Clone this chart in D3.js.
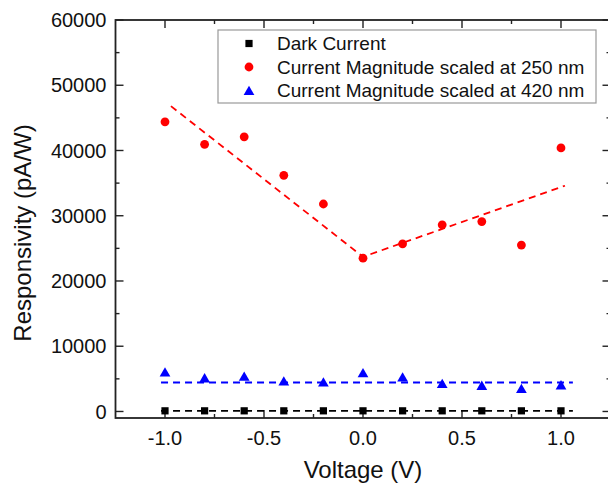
<!DOCTYPE html>
<html>
<head>
<meta charset="utf-8">
<script src="https://cdn.jsdelivr.net/npm/d3@7"></script>
<style>
  body { margin: 0; background: #fff; }
  text { font-family: "Liberation Sans", Arial, sans-serif; fill: #111; }
</style>
</head>
<body>
<svg id="chart" width="608" height="491"></svg>
<script>
// voltage points (V)
const voltage = [-1.0, -0.8, -0.6, -0.4, -0.2, 0.0, 0.2, 0.4, 0.6, 0.8, 1.0];
// responsivity in pA/W
const darkCurrent = [100, 100, 100, 100, 100, 100, 100, 100, 100, 100, 100];
const mag250 = [44400, 40950, 42100, 36200, 31800, 23500, 25700, 28600, 29100, 25500, 40400];
const mag420 = [6050, 5160, 5420, 4670, 4520, 5960, 5310, 4290, 4010, 3520, 4090];

// dashed guide lines
const fit250 = [[-0.97, 46800], [0.0, 23700], [1.02, 34600]];
const fit420 = [[-1.02, 4440], [1.06, 4440]];
const fitDark = [[-1.02, 100], [1.06, 100]];

const xTicks = [-1.0, -0.5, 0.0, 0.5, 1.0];
const xMinor = [-0.75, -0.25, 0.25, 0.75];
const yTicks = [0, 10000, 20000, 30000, 40000, 50000, 60000];
const yMinor = [5000, 15000, 25000, 35000, 45000, 55000];

const legendLabels = ["Dark Current", "Current Magnitude scaled at 250 nm", "Current Magnitude scaled at 420 nm"];

const plotL = 115.5, plotT = 20, plotR = 610.5, plotB = 418;

const x = d3.scaleLinear().domain([-1.25, 1.25]).range([plotL, plotR]);
const y = d3.scaleLinear().domain([-1000, 60000]).range([plotB, plotT]);

const svg = d3.select("#chart");
const axisColor = "#222";

// ticks (all point inward)
function tickLines(g, vals, len, side) {
  g.selectAll(null).data(vals).enter().append("line")
    .attr("x1", d => side === "left" ? plotL : side === "right" ? plotR : x(d))
    .attr("x2", d => side === "left" ? plotL + len : side === "right" ? plotR - len : x(d))
    .attr("y1", d => side === "bottom" ? plotB : side === "top" ? plotT : y(d))
    .attr("y2", d => side === "bottom" ? plotB - len : side === "top" ? plotT + len : y(d))
    .attr("stroke", axisColor)
    .attr("stroke-width", 1.4);
}

const axes = svg.append("g");
["bottom", "top"].forEach(s => {
  tickLines(axes, xTicks, 8, s);
  tickLines(axes, xMinor, 4, s);
});
["left", "right"].forEach(s => {
  tickLines(axes, yTicks, 8, s);
  tickLines(axes, yMinor, 4, s);
});

axes.append("rect")
  .attr("x", plotL).attr("y", plotT)
  .attr("width", plotR - plotL).attr("height", plotB - plotT)
  .attr("fill", "none")
  .attr("stroke", axisColor)
  .attr("stroke-width", 1.8);

// tick labels (plain hyphen for negatives, as in the original)
axes.selectAll(".xl").data(xTicks).enter().append("text")
  .attr("x", d => x(d))
  .attr("y", plotB + 27)
  .attr("text-anchor", "middle")
  .attr("font-size", 20)
  .text(d => d.toFixed(1));

axes.selectAll(".yl").data(yTicks).enter().append("text")
  .attr("x", plotL - 9)
  .attr("y", d => y(d))
  .attr("dy", "0.36em")
  .attr("text-anchor", "end")
  .attr("font-size", 20)
  .text(d => d);

svg.append("text")
  .attr("x", x(0))
  .attr("y", 478)
  .attr("text-anchor", "middle")
  .attr("font-size", 24)
  .text("Voltage (V)");

svg.append("text")
  .attr("transform", "translate(31," + 233 + ") rotate(-90)")
  .attr("text-anchor", "middle")
  .attr("font-size", 24)
  .text("Responsivity (pA/W)");

// dashed lines
const line = d3.line().x(d => x(d[0])).y(d => y(d[1]));
const dashed = [[fitDark, "#000"], [fit420, "#0000ff"], [fit250, "#ff0000"]];
dashed.forEach(([pts, c]) => {
  svg.append("path")
    .attr("d", line(pts))
    .attr("fill", "none")
    .attr("stroke", c)
    .attr("stroke-width", 1.8)
    .attr("stroke-dasharray", "7,5");
});

// markers
const sq = d3.symbol().type(d3.symbolSquare).size(52);
const tri = d3.symbol().type(d3.symbolTriangle).size(50);

svg.append("g").selectAll("path").data(voltage).enter().append("path")
  .attr("d", sq)
  .attr("transform", (d, i) => "translate(" + x(d) + "," + y(darkCurrent[i]) + ")")
  .attr("fill", "#000");

svg.append("g").selectAll("path").data(voltage).enter().append("path")
  .attr("d", tri)
  .attr("transform", (d, i) => "translate(" + x(d) + "," + (y(mag420[i]) + 1.5) + ")")
  .attr("fill", "#0000ff");

svg.append("g").selectAll("circle").data(voltage).enter().append("circle")
  .attr("cx", d => x(d))
  .attr("cy", (d, i) => y(mag250[i]))
  .attr("r", 4.4)
  .attr("fill", "#ff0000");

// legend
const lg = svg.append("g");
lg.append("rect")
  .attr("x", 218).attr("y", 30)
  .attr("width", 378).attr("height", 73)
  .attr("fill", "#fff")
  .attr("stroke", "#999")
  .attr("stroke-width", 1.2);

const rowY = [43.5, 67, 90.5];
lg.append("path").attr("d", sq).attr("transform", "translate(249," + rowY[0] + ")").attr("fill", "#000");
lg.append("circle").attr("cx", 249).attr("cy", rowY[1]).attr("r", 4.4).attr("fill", "#ff0000");
lg.append("path").attr("d", tri).attr("transform", "translate(249," + (rowY[2] + 1.5) + ")").attr("fill", "#0000ff");

lg.selectAll("text").data(legendLabels).enter().append("text")
  .attr("x", 277)
  .attr("y", (d, i) => rowY[i])
  .attr("dy", "0.36em")
  .attr("font-size", 19)
  .text(d => d);
</script>
</body>
</html>
